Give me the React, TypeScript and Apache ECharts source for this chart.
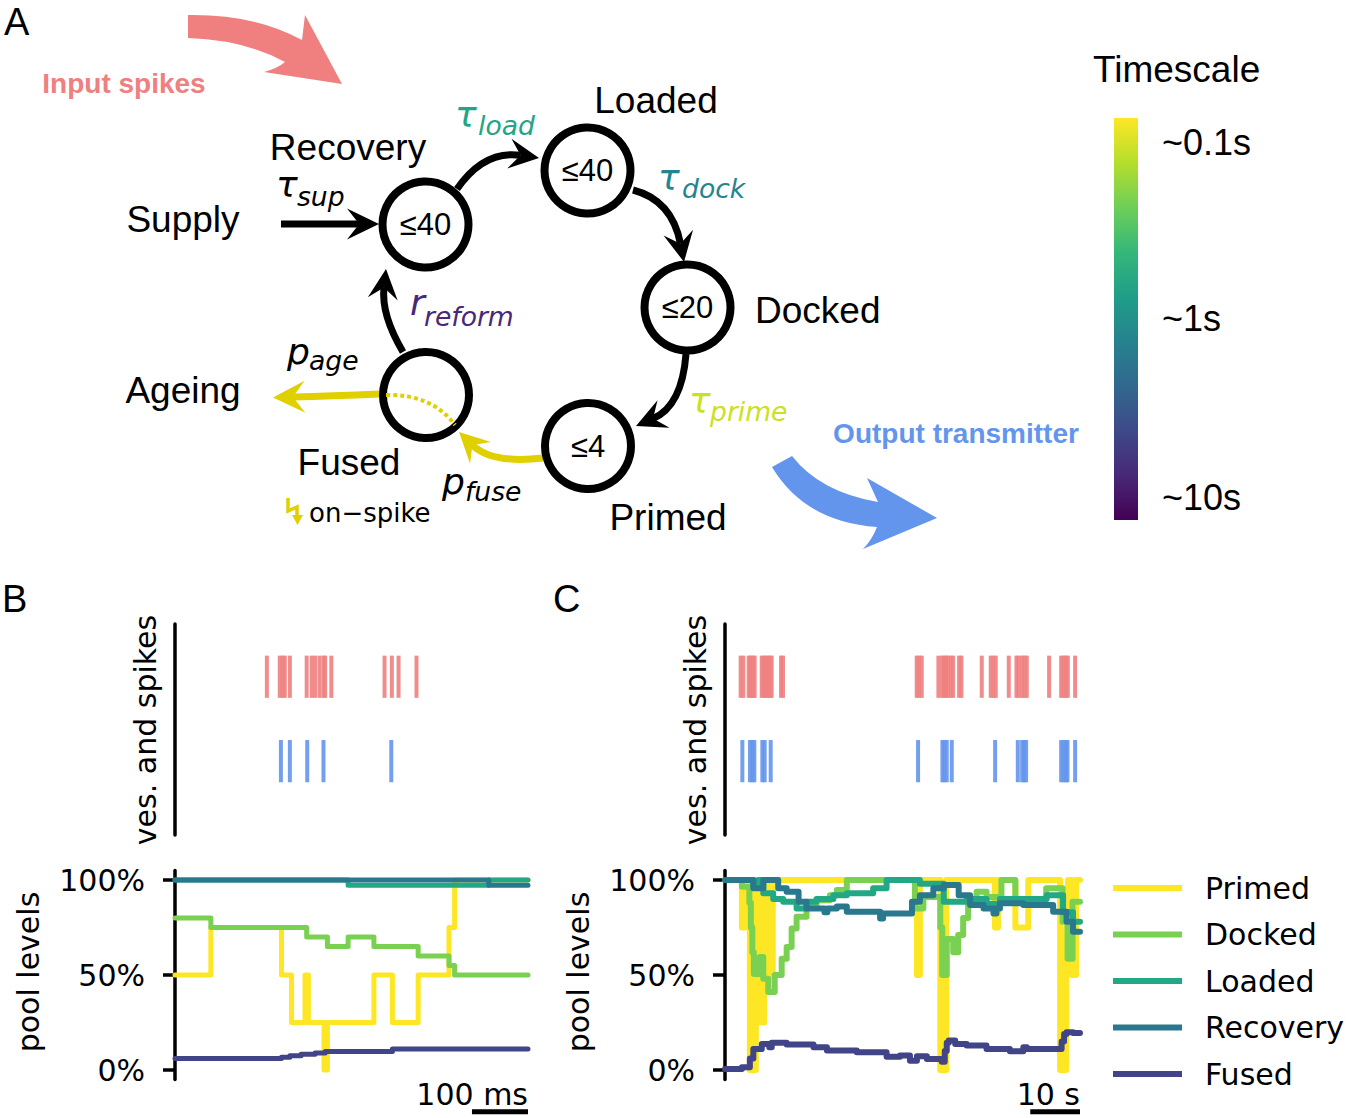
import React, { useEffect, useRef } from "react";
import * as echarts from "echarts";

// ---------------- data ----------------
const POOL_NAMES = ["Primed", "Docked", "Loaded", "Recovery", "Fused"];
const POOL_COLORS = ["#fde725", "#7ad151", "#22a884", "#2a788e", "#414487"];
const Y_TICKS = [0, 50, 100];

const B_T_MAX = 630; // ms
const C_T_MAX = 71.4; // s
const B_SCALE = [530, 630]; // 100 ms
const C_SCALE = [61.4, 71.4]; // 10 s

const B_RED_SPIKES = [164, 187, 192, 196, 205, 235, 244, 250, 258, 265, 268, 279, 374, 387, 399, 431];
const B_BLUE_SPIKES = [189, 205, 236, 265, 386];

const C_RED_SPIKES = [3.15, 3.69, 4.76, 5.16, 5.57, 5.97, 7.38, 7.78, 8.18, 8.58, 8.99, 9.39, 11.27, 11.67,
  38.56, 39.03, 39.57, 42.92, 43.66, 44.06, 44.47, 44.8, 45.41, 45.88, 47.08, 47.55, 51.64, 53.45, 53.99,
  54.46, 57.08, 58.62, 59.09, 59.76, 60.23, 60.7, 65.19, 67.61, 68.08, 68.54, 68.95, 70.42];
const C_BLUE_SPIKES = [3.49, 5.03, 5.5, 5.9, 7.51, 7.98, 9.19, 38.83, 43.73, 44.13, 44.6, 45.61, 54.33,
  58.89, 59.76, 60.16, 60.56, 67.61, 68.08, 68.54, 68.88, 70.42];

const B_PRIMED = [[0, 50], [64, 75], [190, 50], [208, 25], [232, 50], [238, 25], [266, 0], [272, 25], [355, 50], [388, 25], [434, 50], [489, 75], [499, 100], [630, 100]];
const B_DOCKED = [[0, 80], [64, 75], [235, 70], [272, 65], [309, 70], [355, 65], [434, 60], [489, 55], [499, 50], [630, 50]];
const B_LOADED = [[0, 100], [309, 97.3], [560, 100], [630, 100]];
const B_RECOVERY = [[0, 100], [560, 97.3], [630, 97.3]];
const B_FUSED = [[0, 6], [190, 6.7], [205, 7.5], [225, 8.3], [250, 9], [268, 9.8], [388, 11], [630, 11]];

const C_PRIMED = [[0, 100], [3.4, 75], [4.0, 100], [5.0, 0], [6.2, 100], [7.0, 25], [7.9, 100], [8.9, 50], [9.6, 100], [38.6, 50], [39.2, 100], [43.3, 0], [44.5, 100], [54.3, 75], [54.9, 100], [58.4, 75], [61.0, 100], [67.4, 0], [68.6, 75], [69.0, 100], [69.7, 50], [70.6, 100], [71.4, 100]];
const C_DOCKED = [[0, 100], [3.4, 96.5], [4.9, 88], [5.2, 75], [5.5, 62], [5.8, 50.5], [7.0, 59.5], [7.7, 48], [8.7, 41], [10.0, 50], [11.4, 58.6], [12.4, 64.8], [13.4, 74.5], [14.4, 80.6], [16.4, 86.8], [18.4, 89.4], [21.1, 92], [22.5, 94.7], [24.5, 100], [38.2, 85], [39.9, 91], [43.3, 75], [43.7, 50], [44.6, 69], [45.9, 62], [46.9, 71], [47.9, 80], [48.9, 88.6], [50.6, 93.8], [52.6, 91], [55.6, 100], [58.4, 90], [64.6, 95.6], [67.9, 78], [68.9, 58.6], [69.9, 88.6], [71.4, 88.6]];
const C_LOADED = [[0, 100], [5.7, 96.5], [6.7, 100], [7.7, 93], [9.7, 90], [11.7, 88.6], [14.4, 85], [16.4, 88.6], [18.4, 90], [21.8, 92], [24.5, 93], [29.8, 95.6], [32.5, 100], [39.2, 98], [44.0, 88.6], [48.6, 90], [52.6, 87.5], [55.3, 90], [64.7, 92], [68.0, 83], [70.0, 78], [71.4, 78]];
const C_RECOVERY = [[0, 100], [5.7, 95.6], [7.7, 100], [10.7, 95.6], [12.4, 93.8], [14.8, 88.6], [16.4, 85], [20.0, 83], [20.6, 85], [22.5, 86], [24.5, 83.3], [31.2, 79.8], [31.8, 82.4], [37.6, 88.6], [39.2, 92], [41.9, 95.6], [44.0, 97.4], [47.0, 92], [49.3, 86.8], [52.0, 85], [54.0, 82.4], [54.6, 85], [55.3, 87.7], [60.0, 86.8], [66.0, 83.3], [68.7, 78], [70.0, 72.7], [71.4, 72.7]];
const C_FUSED = [[0, 0.5], [3.4, 1.4], [5.0, 6], [5.7, 11], [7.4, 13.7], [8.9, 12], [9.4, 14.3], [12.4, 13.4], [17.8, 12], [20.5, 10.2], [26.5, 9.3], [32.5, 7], [35.2, 7.6], [37.2, 4.9], [38.6, 7.2], [40.6, 5.8], [43.6, 4.4], [44.2, 10], [44.6, 14.3], [45.0, 15.5], [46.3, 13.7], [48.6, 12.9], [52.6, 11.1], [57.3, 9.9], [60.0, 12], [60.7, 11.1], [67.7, 15], [68.2, 19], [68.7, 19.9], [70.0, 19.5], [71.4, 19.5]];

const B_POOLS = [B_PRIMED, B_DOCKED, B_LOADED, B_RECOVERY, B_FUSED];
const C_POOLS = [C_PRIMED, C_DOCKED, C_LOADED, C_RECOVERY, C_FUSED];

const SPIKE_ROW = 3.75;
const VES_ROW = 1.75;
const ROW_HALF = 0.5;

const TIMESCALE_LABELS = ["~0.1s", "~1s", "~10s"];
const VIRIDIS = ["#fde725", "#b5de2b", "#6ece58", "#35b779", "#1f9e89", "#26828e", "#31688e", "#3e4989", "#482878", "#440154"];

// ---------------- shapes ----------------
const InArrow = echarts.graphic.extendPath(
  "M188 15 Q255 14 302 40 L305 15 L342 84 L264 72 Q278 68 285 62 Q245 40 188 38 Z", {});
echarts.graphic.registerShape("inArrowShape", InArrow);
const OutArrow = echarts.graphic.extendPath(
  "M792 456 Q820 492 878 502 L867 478 L937 518 L863 549 Q872 540 877 527 Q805 522 772 467 Z", {});
echarts.graphic.registerShape("outArrowShape", OutArrow);

const SANS = "Liberation Sans";
const MPL = "DejaVu Sans";
const YEL = "#e0d000";
const MAIN_SIZE = 36;
const SUB_SIZE = 26.6;

function T(text: string, x: number, y: number, size: number, o: any = {}) {
  return {
    type: "text", x, y, rotation: o.rotation || 0, silent: true,
    style: {
      text, fill: o.color || "#000", fontSize: size, fontFamily: o.family || SANS,
      fontWeight: o.weight || "normal", fontStyle: o.fstyle || "normal",
      align: o.align || "center", verticalAlign: "middle",
    },
  };
}

function sym(main: string, sub: string, x: number, base: number, sx: number, sbase: number, color: string) {
  return [
    T(main, x, base - 0.346 * MAIN_SIZE, MAIN_SIZE, { family: MPL, fstyle: "italic", color, align: "left" }),
    T(sub, sx, sbase - 0.346 * SUB_SIZE, SUB_SIZE, { family: MPL, fstyle: "italic", color, align: "left" }),
  ];
}

function arrow(x0: number, y0: number, cx: number, cy: number, tx: number, ty: number, color: string, lw: number, hl: number, hw: number) {
  let dx = tx - cx, dy = ty - cy;
  const L = Math.hypot(dx, dy);
  dx /= L; dy /= L;
  const nx = -dy, ny = dx;
  const bx = tx - dx * hl, by = ty - dy * hl;
  const mx = tx - dx * hl * 0.62, my = ty - dy * hl * 0.62;
  return [
    { type: "bezierCurve", silent: true, shape: { x1: x0, y1: y0, cpx1: cx, cpy1: cy, x2: mx, y2: my }, style: { stroke: color, lineWidth: lw, fill: "none" } },
    { type: "polygon", silent: true, shape: { points: [[tx, ty], [bx + nx * hw, by + ny * hw], [mx, my], [bx - nx * hw, by - ny * hw]] }, style: { fill: color } },
  ];
}

function circ(cx: number, cy: number, label: string) {
  const els: any[] = [{ type: "circle", silent: true, shape: { cx, cy, r: 43 }, style: { fill: "none", stroke: "#000", lineWidth: 8 } }];
  if (label) els.push(T(label, cx, cy, 31));
  return els;
}

function spikeRender(color: string) {
  return (params: any, api: any) => {
    const t = api.value(0), r = api.value(1);
    const p0 = api.coord([t, r - ROW_HALF]);
    const p1 = api.coord([t, r + ROW_HALF]);
    return { type: "line", shape: { x1: p0[0], y1: p0[1], x2: p1[0], y2: p1[1] }, style: { stroke: color, lineWidth: 4, opacity: 0.9 } };
  };
}

function buildOption() {
  const grid = (left: number, top: number, width: number, height: number) => ({ left, top, width, height, containLabel: false, outerBoundsMode: "none" });
  const rasterY = (gi: number) => ({
    gridIndex: gi, type: "value", min: 0, max: 5,
    axisLine: { show: true, onZero: false, lineStyle: { color: "#000", width: 3.5 } },
    axisTick: { show: false }, axisLabel: { show: false }, splitLine: { show: false },
  });
  const poolY = (gi: number) => ({
    gridIndex: gi, type: "value", min: -5, max: 105,
    axisLine: { show: true, onZero: false, lineStyle: { color: "#000", width: 3.5 } },
    axisTick: { show: true, length: 12, customValues: Y_TICKS, lineStyle: { color: "#000", width: 3.5 } },
    axisLabel: { show: true, customValues: Y_TICKS, formatter: (v: number) => v + "%", fontSize: 30, fontFamily: MPL, color: "#000", margin: 30 },
    splitLine: { show: false },
  });
  const xA = (gi: number, max: number) => ({ gridIndex: gi, type: "value", min: 0, max, show: false });

  const series: any[] = [];
  const raster = (xi: number, red: number[], blue: number[]) => {
    series.push({ type: "custom", xAxisIndex: xi, yAxisIndex: xi, silent: true, data: red.map((t) => [t, SPIKE_ROW]), renderItem: spikeRender("#f08080") });
    series.push({ type: "custom", xAxisIndex: xi, yAxisIndex: xi, silent: true, data: blue.map((t) => [t, VES_ROW]), renderItem: spikeRender("#6495ed") });
  };
  raster(0, B_RED_SPIKES, B_BLUE_SPIKES);
  raster(1, C_RED_SPIKES, C_BLUE_SPIKES);
  const pools = (xi: number, sets: number[][][], lw: number) => {
    sets.forEach((d, i) => {
      series.push({
        type: "line", name: POOL_NAMES[i], xAxisIndex: xi, yAxisIndex: xi, data: d, step: "end",
        showSymbol: false, symbol: "none", color: POOL_COLORS[i], silent: true,
        lineStyle: { width: lw, color: POOL_COLORS[i], cap: "round", join: "round" },
      });
    });
  };
  pools(2, B_POOLS, 5);
  pools(3, C_POOLS, 6);
  series.push({ type: "line", name: "scaleB", xAxisIndex: 2, yAxisIndex: 2, clip: false, symbol: "none", silent: true, data: B_SCALE.map((t) => [t, -22]), lineStyle: { color: "#000", width: 5 } });
  series.push({ type: "line", name: "scaleC", xAxisIndex: 3, yAxisIndex: 3, clip: false, symbol: "none", silent: true, data: C_SCALE.map((t) => [t, -22]), lineStyle: { color: "#000", width: 5 } });

  const els: any[] = [];
  // panel letters
  els.push(T("A", 4, 22, 38, { align: "left" }), T("B", 2, 599, 38, { align: "left" }), T("C", 553, 599, 38, { align: "left" }));
  // big arrows
  els.push({ type: "inArrowShape", x: 0, y: 0, silent: true, style: { fill: "#f08080" } });
  els.push({ type: "outArrowShape", x: 0, y: 0, silent: true, style: { fill: "#6495ed" } });
  els.push(T("Input spikes", 124, 83, 28, { weight: "bold", color: "#f08080" }));
  els.push(T("Output transmitter", 956, 433, 28, { weight: "bold", color: "#6495ed" }));
  // arrows
  els.push(...arrow(281, 224, 330, 224, 379, 224, "#000", 7, 32, 15.5));
  els.push(...arrow(457, 189, 484, 150, 539, 158, "#000", 7, 30, 15));
  els.push(...arrow(633, 190, 672, 200, 684, 262, "#000", 7, 30, 15));
  els.push(...arrow(686, 354, 682, 406, 636, 426, "#000", 7, 30, 15));
  els.push(...arrow(403, 352, 381, 315, 386, 269, "#000", 7, 30, 15));
  els.push(...arrow(543, 458, 492, 464, 459, 432, YEL, 7, 30, 15));
  els.push(...arrow(380, 394, 330, 396, 273, 397.5, YEL, 7, 32, 16));
  // circles
  els.push(...circ(425.5, 224.5, "≤40"));
  els.push(...circ(587.5, 170.5, "≤40"));
  els.push(...circ(687.5, 307.5, "≤20"));
  els.push(...circ(588, 446, "≤4"));
  els.push(...circ(426, 395, ""));
  els.push({ type: "bezierCurve", silent: true, shape: { x1: 386, y1: 395, cpx1: 432, cpy1: 394, x2: 455, y2: 425 }, style: { stroke: YEL, lineWidth: 4, lineDash: [4, 3], fill: "none" } });
  // labels
  els.push(T("Recovery", 348, 147, 37), T("Loaded", 656, 100, 37), T("Supply", 183, 219, 37),
    T("Docked", 755, 310, 37, { align: "left" }), T("Ageing", 183, 390, 37), T("Fused", 349, 462, 37), T("Primed", 668, 517, 37));
  els.push(...sym("τ", "sup", 276, 197, 297, 206, "#000"));
  els.push(...sym("τ", "load", 455, 127, 478, 135, "#21a585"));
  els.push(...sym("τ", "dock", 658, 190, 682, 198, "#25858e"));
  els.push(...sym("r", "reform", 410, 315, 424, 326, "#482878"));
  els.push(...sym("p", "age", 287, 364, 309, 370, "#000"));
  els.push(...sym("p", "fuse", 442, 494, 465, 501, "#000"));
  els.push(...sym("τ", "prime", 689, 413, 710, 421, "#cbe11e"));
  // on-spike bolt
  els.push({ type: "polyline", silent: true, shape: { points: [[288, 498], [288, 511], [297, 507], [297, 517]] }, style: { stroke: YEL, lineWidth: 3.5, fill: "none" } });
  els.push({ type: "polygon", silent: true, shape: { points: [[292, 515], [303, 515], [297.5, 525]] }, style: { fill: YEL } });
  els.push(T("on\u2212spike", 309, 513, 26, { family: MPL, align: "left" }));
  // colorbar
  els.push(T("Timescale", 1093, 69, 37, { align: "left" }));
  els.push({
    type: "rect", silent: true, shape: { x: 1114, y: 118, width: 24, height: 402 },
    style: { fill: new echarts.graphic.LinearGradient(0, 0, 0, 1, VIRIDIS.map((c, i) => ({ offset: i / (VIRIDIS.length - 1), color: c }))) },
  });
  const cbY = [142, 318, 497];
  TIMESCALE_LABELS.forEach((s, i) => els.push(T(s, 1162, cbY[i], 36, { align: "left" })));
  // axis names & scale bar labels
  els.push(T("ves. and spikes", 145, 730, 30, { family: MPL, rotation: Math.PI / 2 }));
  els.push(T("ves. and spikes", 695, 730, 30, { family: MPL, rotation: Math.PI / 2 }));
  els.push(T("pool levels", 28, 972, 30, { family: MPL, rotation: Math.PI / 2 }));
  els.push(T("pool levels", 578, 972, 30, { family: MPL, rotation: Math.PI / 2 }));
  els.push(T("100 ms", 528, 1094, 30, { family: MPL, align: "right" }));
  els.push(T("10 s", 1080, 1094, 30, { family: MPL, align: "right" }));

  return {
    animation: false,
    backgroundColor: "#ffffff",
    grid: [grid(175, 624, 353, 211), grid(725, 624, 355, 211), grid(175, 870.5, 353, 209), grid(725, 870.5, 355, 209)],
    xAxis: [xA(0, B_T_MAX), xA(1, C_T_MAX), xA(2, B_T_MAX), xA(3, C_T_MAX)],
    yAxis: [rasterY(0), rasterY(1), poolY(2), poolY(3)],
    legend: {
      data: POOL_NAMES, orient: "vertical", left: 1113, top: 871, itemWidth: 69, itemHeight: 6, itemGap: 12.5,
      icon: "rect", padding: 0, selectedMode: false,
      textStyle: { fontSize: 30, fontFamily: MPL, color: "#000", lineHeight: 34, padding: [0, 0, 0, 18] },
    },
    series,
    graphic: { elements: els },
  };
}

export default function App() {
  const ref = useRef<HTMLDivElement>(null);
  useEffect(() => {
    document.body.style.margin = "0";
    const chart = echarts.init(ref.current as HTMLDivElement, null, { renderer: "svg" });
    chart.setOption(buildOption() as any);
    return () => chart.dispose();
  }, []);
  return <div ref={ref} style={{ position: "absolute", left: 0, top: 0, width: 1350, height: 1118 }} />;
}
